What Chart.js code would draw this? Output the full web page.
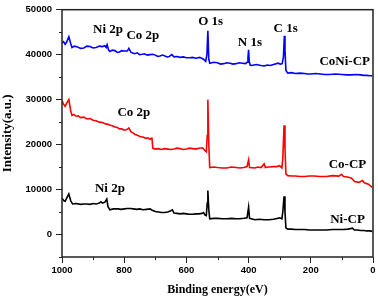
<!DOCTYPE html>
<html>
<head>
<meta charset="utf-8">
<script src="https://cdn.jsdelivr.net/npm/chart.js@4"></script>
<style>
  body { margin: 0; background: #fff; }
  canvas { display: block; }
</style>
</head>
<body>
<canvas id="xps" width="378" height="298"></canvas>
<script>
// survey spectra (binding energy eV / counts)
const coniEnergy = [1000, 995, 990, 985, 978, 972, 968, 960, 950, 940, 930, 920, 910, 900, 890, 880, 870, 862, 858, 855, 850, 846, 838, 830, 822, 815, 808, 800, 790, 785, 778, 766, 758, 750, 742, 735, 726, 717, 708, 700, 692, 685, 677, 669, 662, 655, 647, 640, 630, 620, 610, 600, 589, 580, 570, 557, 545, 538, 534, 531, 528, 525, 512, 500, 490, 480, 470, 460, 450, 440, 430, 420, 410, 405, 402, 400, 398, 395, 390, 375, 360, 350, 340, 330, 320, 305, 298, 292, 288, 285, 283, 280, 274, 262, 250, 235, 220, 210, 200, 185, 170, 155, 140, 120, 100, 85, 70, 55, 40, 30, 20, 10, 2];
const coniCounts = [42600, 42900, 42300, 42800, 44000, 42500, 41600, 41900, 41700, 41400, 41500, 41900, 41800, 41500, 41600, 41900, 41800, 42000, 41600, 42200, 41000, 40700, 41000, 40900, 40500, 40600, 40900, 40800, 40800, 41400, 40500, 40200, 40400, 40000, 40100, 40200, 39900, 40000, 40100, 39900, 39600, 39700, 39900, 39700, 39500, 39600, 40000, 39500, 39600, 39400, 39500, 39300, 39300, 39400, 39200, 39400, 39000, 38500, 40000, 45300, 39000, 38100, 38300, 38200, 37900, 38000, 38200, 38100, 37900, 38000, 38200, 38100, 38000, 38300, 39500, 41100, 38500, 37700, 37600, 37800, 37600, 37500, 37700, 37600, 37800, 38100, 37900, 38000, 39500, 44200, 41000, 36500, 35900, 36000, 35800, 35900, 35800, 35700, 35700, 35800, 35700, 35600, 35600, 35700, 35600, 35500, 35500, 35600, 35500, 35400, 35400, 35300, 35300];

const coEnergy = [1000, 995, 990, 985, 978, 972, 968, 962, 955, 948, 940, 930, 920, 910, 900, 890, 880, 870, 860, 852, 845, 838, 830, 822, 815, 808, 800, 790, 785, 778, 772, 766, 758, 750, 740, 730, 724, 717, 713, 711, 708, 700, 690, 680, 670, 660, 650, 640, 630, 620, 610, 600, 590, 580, 570, 560, 548, 542, 536, 533, 531, 528, 525, 512, 500, 485, 470, 455, 440, 428, 415, 405, 400, 397, 380, 370, 360, 350, 346, 338, 330, 320, 310, 300, 293, 290, 286, 283, 280, 274, 262, 250, 235, 220, 205, 190, 170, 150, 130, 110, 101, 95, 82, 70, 59, 45, 34, 28, 15, 2];
const coCounts = [29700, 29000, 28500, 29200, 30000, 27500, 26500, 26700, 26300, 26400, 26000, 26100, 25700, 25800, 25400, 25300, 25000, 24900, 24600, 24500, 24300, 24200, 23900, 23800, 23500, 23500, 23200, 23400, 23700, 22800, 22600, 22300, 22100, 21800, 21700, 21400, 21500, 21200, 21400, 21600, 19200, 19000, 19100, 18900, 19100, 19000, 18900, 19000, 19200, 19100, 18900, 19000, 19200, 19100, 19000, 19200, 19300, 18800, 18400, 22000, 30000, 20000, 14900, 15000, 14900, 14800, 14800, 15000, 14900, 14800, 14900, 15100, 16600, 14900, 14800, 15000, 14900, 15700, 14900, 15000, 15000, 15100, 15100, 15300, 14800, 17000, 24300, 19000, 13500, 13100, 13000, 13000, 12900, 12900, 13000, 13000, 12900, 12900, 13100, 13000, 13400, 12900, 12800, 12600, 11800, 11600, 12000, 11500, 11200, 10500];

const niEnergy = [1000, 994, 990, 984, 978, 972, 966, 955, 940, 930, 920, 910, 900, 890, 880, 875, 870, 862, 856, 852, 846, 835, 820, 810, 800, 790, 780, 770, 760, 750, 740, 728, 717, 710, 700, 690, 680, 670, 660, 650, 645, 640, 630, 620, 610, 600, 590, 580, 570, 560, 550, 545, 540, 536, 533, 531, 528, 525, 512, 500, 485, 470, 455, 440, 428, 415, 405, 400, 397, 380, 365, 350, 335, 320, 300, 293, 290, 286, 283, 280, 274, 262, 250, 235, 220, 205, 190, 170, 150, 130, 110, 95, 80, 66, 60, 50, 40, 30, 20, 10, 2];
const niCounts = [8100, 7500, 7400, 8200, 9000, 7500, 6800, 6900, 6700, 6800, 6800, 6700, 6900, 6800, 7000, 7300, 7000, 7200, 7900, 6200, 5500, 5700, 5700, 5600, 5700, 5800, 5800, 5700, 5600, 5700, 5500, 5600, 5700, 5400, 5100, 5000, 4900, 4900, 5000, 5300, 5500, 4800, 4700, 4600, 4700, 4600, 4500, 4500, 4600, 4600, 4700, 4900, 4300, 4200, 7000, 9800, 5500, 3500, 3600, 3600, 3500, 3500, 3600, 3500, 3500, 3600, 3700, 6100, 3600, 3300, 3400, 3300, 3300, 3400, 3700, 3500, 5000, 8500, 5000, 1500, 1200, 1200, 1100, 1100, 1100, 1000, 1000, 1000, 1000, 1100, 1100, 1100, 1200, 1400, 1000, 1000, 900, 900, 800, 800, 700];

const xTicks = [1000, 800, 600, 400, 200, 0];
const xMinor = [900, 700, 500, 300, 100];
const yTicks = [0, 10000, 20000, 30000, 40000, 50000];
const yMinor = [-5000, 5000, 15000, 25000, 35000, 45000];

// peak / sample labels, in data coordinates
const notes = [
  { text: 'Ni 2p', x: 852, y: 45500 },
  { text: 'Co 2p', x: 740, y: 44200 },
  { text: 'O 1s', x: 522, y: 47300 },
  { text: 'N 1s', x: 396, y: 42700 },
  { text: 'C 1s', x: 281, y: 45700 },
  { text: 'CoNi-CP', x: 91, y: 38500 },
  { text: 'Co 2p', x: 769, y: 27100 },
  { text: 'Co-CP', x: 82, y: 15500 },
  { text: 'Ni 2p', x: 846, y: 10300 },
  { text: 'Ni-CP', x: 82, y: 3300 }
];

const serif = '"Liberation Serif", "Times New Roman", serif';
const sans = '"Liberation Sans", Arial, sans-serif';
const toPoints = (xs, ys) => xs.map((x, i) => ({ x: x, y: ys[i] }));

const framePlugin = {
  id: 'frame',
  afterDraw(chart) {
    const ctx = chart.ctx;
    const a = chart.chartArea;
    const xs = chart.scales.x, ys = chart.scales.y;
    ctx.save();
    ctx.strokeStyle = '#222';
    ctx.lineWidth = 1.5;
    ctx.strokeRect(a.left, a.top, a.right - a.left, a.bottom - a.top);
    // short minor ticks
    ctx.lineWidth = 1;
    ctx.beginPath();
    xMinor.forEach(v => {
      const px = Math.round(xs.getPixelForValue(v)) + 0.5;
      ctx.moveTo(px, a.bottom);
      ctx.lineTo(px, a.bottom + 3);
    });
    yMinor.forEach(v => {
      const py = Math.round(ys.getPixelForValue(v)) + 0.5;
      ctx.moveTo(a.left, py);
      ctx.lineTo(a.left - 3, py);
    });
    ctx.stroke();
    ctx.fillStyle = '#000';
    ctx.font = 'bold 13px ' + serif;
    ctx.textAlign = 'center';
    ctx.textBaseline = 'middle';
    notes.forEach(n => {
      ctx.fillText(n.text, xs.getPixelForValue(n.x), ys.getPixelForValue(n.y));
    });
    ctx.restore();
  }
};

new Chart(document.getElementById('xps'), {
  type: 'line',
  data: {
    datasets: [
      { label: 'CoNi-CP', data: toPoints(coniEnergy, coniCounts), borderColor: '#0000ff' },
      { label: 'Co-CP', data: toPoints(coEnergy, coCounts), borderColor: '#ff0000' },
      { label: 'Ni-CP', data: toPoints(niEnergy, niCounts), borderColor: '#000000' }
    ]
  },
  options: {
    responsive: false,
    animation: false,
    events: [],
    elements: {
      point: { radius: 0 },
      line: { borderWidth: 1.6, tension: 0 }
    },
    layout: { padding: { top: 6, right: 5, left: 0, bottom: 0 } },
    plugins: {
      legend: { display: false },
      tooltip: { enabled: false }
    },
    scales: {
      x: {
        type: 'linear',
        reverse: true,
        min: 0,
        max: 1000,
        afterBuildTicks: s => { s.ticks = xTicks.map(v => ({ value: v })); },
        afterFit: s => { s.height = 41; },
        border: { display: false },
        grid: { drawOnChartArea: false, drawTicks: true, tickLength: 6, tickColor: '#222', tickWidth: 1 },
        ticks: { color: '#000', padding: 2, maxRotation: 0, autoSkip: false, callback: v => String(v), font: { family: sans, size: 9.5, weight: 'bold' } },
        title: { display: true, text: 'Binding energy(eV)', color: '#000', padding: { top: 0, bottom: 1 }, font: { family: serif, size: 12, weight: 'bold' } }
      },
      y: {
        min: -5000,
        max: 50000,
        afterBuildTicks: s => { s.ticks = yTicks.map(v => ({ value: v })); },
        afterFit: s => { s.width = 62; },
        border: { display: false },
        grid: { drawOnChartArea: false, drawTicks: true, tickLength: 6, tickColor: '#222', tickWidth: 1 },
        ticks: { color: '#000', padding: 4, autoSkip: false, callback: v => String(v), font: { family: sans, size: 9.5, weight: 'bold' } },
        title: { display: true, text: 'Intensity(a.u.)', color: '#000', padding: 0, font: { family: serif, size: 13, weight: 'bold' } }
      }
    }
  },
  plugins: [framePlugin]
});
</script>
</body>
</html>
